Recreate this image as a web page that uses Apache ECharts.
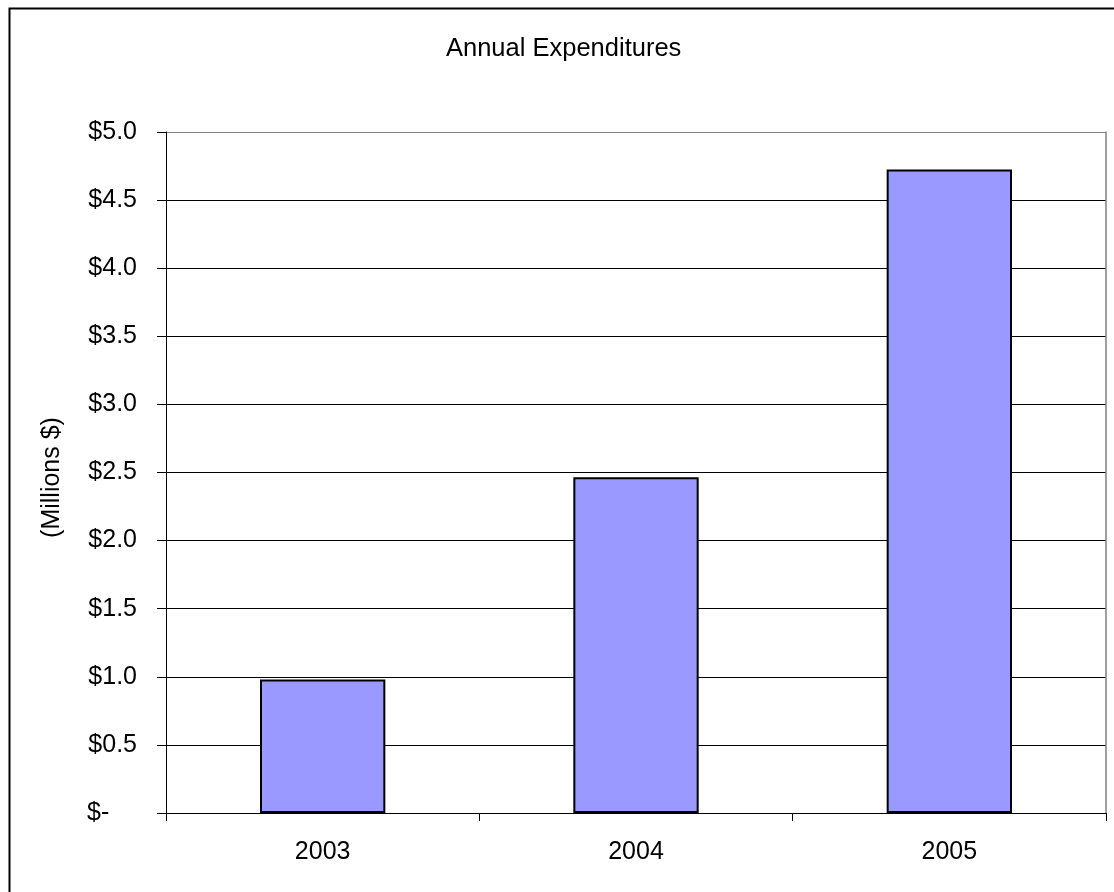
<!DOCTYPE html>
<html>
<head>
<meta charset="utf-8">
<title>Annual Expenditures</title>
<script src="https://cdn.jsdelivr.net/npm/echarts@6/dist/echarts.min.js"></script>
<style>
  html, body { margin: 0; padding: 0; background: #fff; }
  #chart { width: 1114px; height: 892px; }
</style>
</head>
<body>
<div id="chart"></div>
<script>
// Annual spending, in millions of dollars
const years = ['2003', '2004', '2005'];
const expenditures = [0.98, 2.465, 4.725];
const yTickLabels = ['$-    ', '$0.5', '$1.0', '$1.5', '$2.0', '$2.5', '$3.0', '$3.5', '$4.0', '$4.5', '$5.0'];

const FONT = '"Liberation Sans", Arial, sans-serif';

// Gridlines are black; the top edge belongs to the grey plot-area frame
const splitColors = yTickLabels.map((_, i) => i === yTickLabels.length - 1 ? '#808080' : '#000000');

const chart = echarts.init(document.getElementById('chart'), null, { renderer: 'canvas' });

chart.setOption({
  backgroundColor: '#ffffff',
  animation: false,
  title: {
    text: 'Annual Expenditures',
    left: 441,
    top: 31,
    textStyle: { fontFamily: FONT, fontSize: 25.5, fontWeight: 'normal', color: '#000' }
  },
  graphic: [{
    type: 'rect',
    left: 7,
    top: 6,
    shape: { width: 1400, height: 1200 },
    style: { fill: 'none', stroke: '#000', lineWidth: 2 },
    silent: true,
    z: 100
  }],
  grid: { left: 166, right: 8, top: 132, bottom: 79, containLabel: false },
  xAxis: {
    type: 'category',
    data: years,
    boundaryGap: true,
    axisLine: { lineStyle: { color: '#000', width: 1 } },
    axisTick: { show: true, length: 8, lineStyle: { color: '#000' } },
    axisLabel: { margin: 27, fontFamily: FONT, fontSize: 25, color: '#000' },
    splitLine: { show: false }
  },
  yAxis: [{
    type: 'value',
    min: 0,
    max: 5,
    interval: 0.5,
    name: '(Millions $)',
    nameLocation: 'middle',
    nameGap: 101,
    nameRotate: 90,
    nameTextStyle: { fontFamily: FONT, fontSize: 25, color: '#000', padding: [0, 10, 0, 0] },
    axisLine: { show: true, lineStyle: { color: '#000', width: 1 } },
    axisTick: { show: true, length: 9, lineStyle: { color: '#000' } },
    axisLabel: {
      margin: 29,
      fontFamily: FONT,
      fontSize: 25,
      color: '#000',
      formatter: (v) => yTickLabels[Math.round(v / 0.5)]
    },
    splitLine: { show: true, lineStyle: { color: splitColors, width: 1 } }
  }, {
    // right edge of the plot-area frame
    type: 'value',
    position: 'right',
    min: 0,
    max: 5,
    interval: 0.5,
    axisLine: { show: true, lineStyle: { color: '#808080', width: 1.5 } },
    axisTick: { show: false },
    axisLabel: { show: false },
    splitLine: { show: false }
  }],
  series: [{
    type: 'bar',
    data: expenditures,
    yAxisIndex: 0,
    barWidth: '40%',
    itemStyle: { color: '#9999FF', borderColor: '#000', borderWidth: 2 }
  }]
});
</script>
</body>
</html>
